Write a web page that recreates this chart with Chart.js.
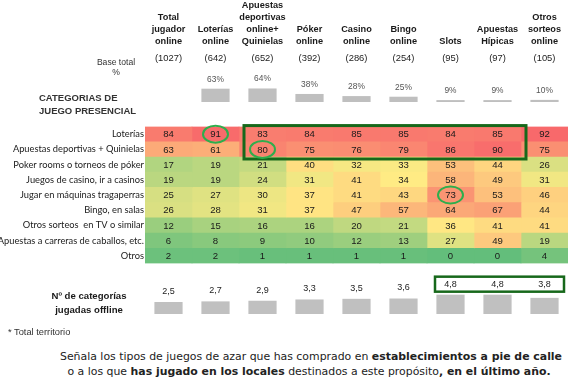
<!DOCTYPE html>
<html><head><meta charset="utf-8">
<script src="https://cdn.jsdelivr.net/npm/chart.js@4.4.1/dist/chart.umd.min.js"></script>
<style>
html,body{margin:0;padding:0;background:#fff;}
#wrap{position:relative;width:572px;height:379px;overflow:hidden;font-family:"Liberation Sans",Arial,sans-serif;color:#222;}
canvas{position:absolute;left:0;}
.t{position:absolute;white-space:nowrap;line-height:1.2;transform:translateY(-50%);}
.cx{transform:translate(-50%,-50%);text-align:center;}
.b{font-weight:bold;}
</style></head><body>
<div id="wrap">
  <canvas id="topChart" width="572" height="104" style="top:0"></canvas>
  <canvas id="heatChart" width="572" height="150" style="top:120px"></canvas>
  <canvas id="botChart" width="572" height="48" style="top:268px"></canvas>

  <div class="t cx" style="left:116px;top:62px;font-size:8.6px;color:#333;">Base total</div>
  <div class="t cx" style="left:116px;top:72px;font-size:8.6px;color:#333;">%</div>
  <div class="t b" style="left:39px;top:98px;font-size:9.5px;color:#333;">CATEGORIAS DE</div>
  <div class="t b" style="left:39px;top:111px;font-size:9.5px;color:#333;">JUEGO PRESENCIAL</div>
  <div class="t b cx" style="left:89px;top:296px;font-size:9.6px;color:#1a1a1a;">Nº de categorías</div>
  <div class="t b cx" style="left:89px;top:310px;font-size:9.6px;color:#1a1a1a;">jugadas offline</div>
  <div class="t" style="left:8px;top:333px;font-size:9.3px;color:#333;">* Total territorio</div>
  <div class="t cx" style="left:311px;top:357px;font-family:'DejaVu Sans',Verdana,sans-serif;font-size:10.9px;color:#222;">Señala los tipos de juegos de azar que has comprado en <b>establecimientos a pie de calle</b></div>
  <div class="t cx" style="left:309px;top:372px;font-family:'DejaVu Sans',Verdana,sans-serif;font-size:10.9px;color:#222;">o a los que <b>has jugado en los locales</b> destinados a este propósito<b>, en el último año.</b></div>
</div>
<script>
// ---------- DATA ----------
const columnLabels = [["Total","jugador","online"],["Loterías","online"],["Apuestas","deportivas","online+","Quinielas"],["Póker","online"],["Casino","online"],["Bingo","online"],["Slots"],["Apuestas","Hípicas"],["Otros","sorteos","online"]];
const baseCounts = [1027, 642, 652, 392, 286, 254, 95, 97, 105];
const basePct = [null, 63, 64, 38, 28, 25, 9, 9, 10];

const rowLabels = ["Loterías","Apuestas deportivas + Quinielas","Poker rooms o torneos de póker","Juegos de casino, ir a casinos","Jugar en máquinas tragaperras","Bingo, en salas","Otros sorteos  en TV o similar","Apuestas a carreras de caballos, etc.","Otros"];
const rowLoterias     = [84, 91, 83, 84, 85, 85, 84, 85, 92];
const rowApuestasDep  = [63, 61, 80, 75, 76, 79, 86, 90, 75];
const rowPoker        = [17, 19, 21, 40, 32, 33, 53, 44, 26];
const rowCasino       = [19, 19, 24, 31, 41, 34, 58, 49, 31];
const rowTragaperras  = [25, 27, 30, 37, 41, 43, 73, 53, 46];
const rowBingo        = [26, 28, 31, 37, 47, 57, 64, 67, 44];
const rowOtrosSorteos = [12, 15, 16, 16, 20, 21, 36, 41, 41];
const rowCaballos     = [6, 8, 9, 10, 12, 13, 27, 49, 19];
const rowOtros        = [2, 2, 1, 1, 1, 1, 0, 0, 4];

const offlineCats = [2.5, 2.7, 2.9, 3.3, 3.5, 3.6, 4.8, 4.8, 3.8];

// highlights (column/row indices)
const boxCols = [2, 8];      // columns 2..7 inclusive
const boxRows = [0, 1];
const circles = [[1, 0], [2, 1], [6, 4]];
const offlineBoxCols = [6, 8];

// ---------- STYLE ----------
const SANS = '"Liberation Sans",Arial,sans-serif';
const HUMAN = 'Lato,"Liberation Sans",Arial,sans-serif';
const DARK_GREEN = '#17681b';
const LIGHT_GREEN = '#2eae4c';

const heatRows = [rowLoterias,rowApuestasDep,rowPoker,rowCasino,rowTragaperras,rowBingo,rowOtrosSorteos,rowCaballos,rowOtros];
const allVals = heatRows.flat().slice().sort((a,b)=>a-b);
const vMin = allVals[0], vMax = allVals[allVals.length-1];
const vMid = (function(){const p=(allVals.length-1)*0.5;const lo=Math.floor(p),hi=Math.ceil(p);return allVals[lo]+(allVals[hi]-allVals[lo])*(p-lo);})();
function mix(a,b,t){return [0,1,2].map(i=>Math.round(a[i]+(b[i]-a[i])*t));}
function heatColor(v){
  const G=[99,190,123],Y=[255,235,132],R=[248,105,107];
  let c = v<=vMid ? mix(G,Y,(v-vMin)/(vMid-vMin)) : mix(Y,R,(v-vMid)/(vMax-vMid));
  return 'rgb('+c.join(',')+')';
}
const common = {responsive:false, animation:false, events:[], plugins:{legend:{display:false},tooltip:{enabled:false}}};

// ---------- TOP CHART ----------
const topLabelsPlugin = {
  id:'topLabels',
  afterDatasetsDraw(chart){
    const ctx=chart.ctx, xs=chart.scales.x, meta=chart.getDatasetMeta(0);
    ctx.save();
    ctx.textAlign='center'; ctx.textBaseline='middle';
    ctx.font='9.4px '+SANS; ctx.fillStyle='#222';
    baseCounts.forEach((n,i)=>ctx.fillText('('+n+')', xs.getPixelForValue(i), 58));
    ctx.font='8.4px '+SANS; ctx.fillStyle='#555';
    meta.data.forEach((el,i)=>{ if(basePct[i]==null) return; ctx.fillText(basePct[i]+'%', el.x, el.y-9.5); });
    ctx.restore();
  }
};
new Chart(document.getElementById('topChart'),{
  type:'bar',
  data:{labels:columnLabels, datasets:[{data:basePct, backgroundColor:'#bfbfbf', barPercentage:0.6, categoryPercentage:1, borderWidth:0}]},
  options:Object.assign({}, common, {
    layout:{padding:{left:145,right:4,top:0,bottom:2}},
    scales:{
      x:{position:'top', grid:{display:false, drawTicks:false}, border:{display:false},
         ticks:{padding:2, maxRotation:0, autoSkip:false, color:'#1a1a1a', font:{family:SANS, size:9.2, weight:'bold', lineHeight:1.32}},
         afterFit:(s)=>{s.height=50;}},
      y:{display:false, min:0, max:246}
    }
  }),
  plugins:[topLabelsPlugin]
});

// ---------- HEATMAP ----------
const heatPlugin = {
  id:'heatText',
  afterDatasetsDraw(chart){
    const ctx=chart.ctx, xs=chart.scales.x, ys=chart.scales.y;
    ctx.save();
    ctx.textAlign='center'; ctx.textBaseline='middle';
    ctx.font='9.6px '+SANS; ctx.fillStyle='#1a1a1a';
    chart.data.datasets.forEach((ds,c)=>{
      chart.getDatasetMeta(c).data.forEach((el,r)=>{
        ctx.fillText(String(heatRows[r][c]), (el.x+el.base)/2, el.y+0.5);
      });
    });
    // box
    const rowH = ys.getPixelForValue(1)-ys.getPixelForValue(0);
    const x1 = xs.getPixelForValue(boxCols[0])+5, x2 = xs.getPixelForValue(boxCols[1])+5;
    const y1 = ys.getPixelForValue(boxRows[0])-rowH/2-1, y2 = ys.getPixelForValue(boxRows[1])+rowH/2+2;
    ctx.strokeStyle=DARK_GREEN; ctx.lineWidth=3;
    ctx.strokeRect(x1,y1,x2-x1,y2-y1);
    // circles
    ctx.strokeStyle=LIGHT_GREEN; ctx.lineWidth=2;
    circles.forEach(([c,r])=>{
      ctx.beginPath();
      ctx.ellipse(xs.getPixelForValue(c+0.5), ys.getPixelForValue(r), 12.5, 8.5, 0, 0, Math.PI*2);
      ctx.stroke();
    });
    ctx.restore();
  }
};
new Chart(document.getElementById('heatChart'),{
  type:'bar',
  data:{
    labels:rowLabels,
    datasets:columnLabels.map((_,c)=>({
      data:heatRows.map(()=>[c,c+1]),
      backgroundColor:heatRows.map(r=>heatColor(r[c])),
      grouped:false, barPercentage:1, categoryPercentage:1, borderWidth:0
    }))
  },
  options:Object.assign({}, common, {
    indexAxis:'y',
    layout:{padding:{left:0,right:4,top:3,bottom:3}},
    scales:{
      x:{type:'linear', display:false, min:0, max:columnLabels.length},
      y:{type:'category', grid:{display:false, drawTicks:false}, border:{display:false},
         ticks:{padding:1, color:'#1a1a1a', font:{family:HUMAN, size:9.3}},
         afterFit:(s)=>{s.width=145;}}
    }
  }),
  plugins:[heatPlugin]
});

// ---------- BOTTOM CHART ----------
const botPlugin = {
  id:'botLabels',
  afterDatasetsDraw(chart){
    const ctx=chart.ctx, xs=chart.scales.x, ys=chart.scales.y, meta=chart.getDatasetMeta(0);
    const boxed = i => i>=offlineBoxCols[0] && i<=offlineBoxCols[1];
    const boxTop = ys.getPixelForValue(Math.max(...offlineCats.slice(offlineBoxCols[0],offlineBoxCols[1]+1)));
    ctx.save();
    ctx.textAlign='center'; ctx.textBaseline='middle';
    ctx.font='9px '+SANS; ctx.fillStyle='#222';
    let labelYBox = boxTop-10.5;
    meta.data.forEach((el,i)=>{
      const y = boxed(i) ? labelYBox : el.y-10.5;
      ctx.fillText(String(offlineCats[i]).replace('.',','), el.x, y);
    });
    const half = (xs.getPixelForValue(1)-xs.getPixelForValue(0))/2;
    const x1 = xs.getPixelForValue(offlineBoxCols[0])-half+8, x2 = xs.getPixelForValue(offlineBoxCols[1])+half-4;
    ctx.strokeStyle=DARK_GREEN; ctx.lineWidth=2.5;
    ctx.strokeRect(x1, labelYBox-7.5, x2-x1, 15);
    ctx.restore();
  }
};
new Chart(document.getElementById('botChart'),{
  type:'bar',
  data:{labels:columnLabels.map(l=>l.join(' ')), datasets:[{data:offlineCats, base:-1.25, backgroundColor:'#c0c0c0', barPercentage:0.6, categoryPercentage:1, borderWidth:0}]},
  options:Object.assign({}, common, {
    layout:{padding:{left:145,right:4,top:0,bottom:2}},
    scales:{x:{display:false}, y:{display:false, min:-1.25, max:13.15}}
  }),
  plugins:[botPlugin]
});
</script>
</body></html>
